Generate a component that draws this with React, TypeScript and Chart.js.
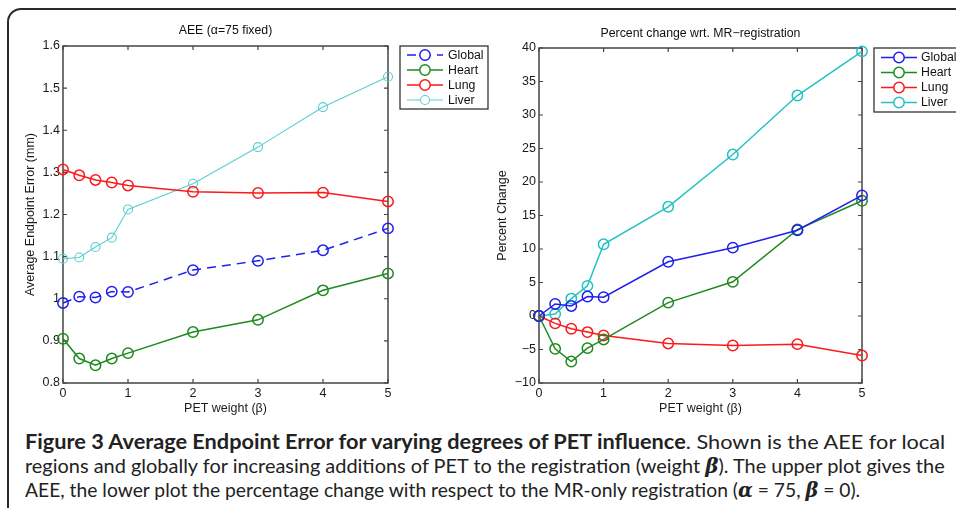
import React, { useEffect, useLayoutEffect, useRef } from "react";
import { Chart, registerables } from "chart.js";

Chart.register(...registerables);

// ---------- data ----------
const betaValues = [0, 0.25, 0.5, 0.75, 1, 2, 3, 4, 5];
const seriesNames = ["Global", "Heart", "Lung", "Liver"];

const aeeGlobal = [0.99, 1.005, 1.003, 1.017, 1.016, 1.068, 1.09, 1.115, 1.167];
const aeeHeart = [0.905, 0.858, 0.842, 0.858, 0.871, 0.921, 0.95, 1.02, 1.06];
const aeeLung = [1.307, 1.293, 1.282, 1.276, 1.269, 1.254, 1.251, 1.252, 1.231];
const aeeLiver = [1.095, 1.098, 1.123, 1.145, 1.212, 1.273, 1.36, 1.455, 1.527];

const pctGlobal = [0, 1.8, 1.5, 2.9, 2.8, 8.1, 10.2, 12.8, 18.0];
const pctHeart = [0, -4.9, -6.8, -4.8, -3.5, 2.0, 5.1, 12.9, 17.2];
const pctLung = [0, -1.1, -1.9, -2.4, -2.9, -4.1, -4.4, -4.2, -5.9];
const pctLiver = [0, 0.3, 2.6, 4.5, 10.7, 16.3, 24.1, 32.9, 39.5];

const xTicks = [0, 1, 2, 3, 4, 5];
const aeeTicks = [0.8, 0.9, 1.0, 1.1, 1.2, 1.3, 1.4, 1.5, 1.6];
const pctTicks = [-10, -5, 0, 5, 10, 15, 20, 25, 30, 35, 40];

const leftTitle = "AEE (\u03b1=75 fixed)";
const rightTitle = "Percent change wrt. MR\u2212registration";
const xTitle = "PET weight (\u03b2)";
const leftYTitle = "Average Endpoint Error (mm)";
const rightYTitle = "Percent Change";

const colBlue = "#1f1ff0";
const colGreen = "#1f8a1f";
const colRed = "#fa1a1a";
const colCyanLight = "#58cfcf";
const colCyan = "#22c2c2";

const FONT = "'Liberation Sans', Arial, Helvetica, sans-serif";
const AXIS_COLOR = "#444";

// ---------- plugins ----------
const matlabPlugin = {
  id: "matlabFrame",
  beforeDatasetsDraw(chart: any) {
    const { ctx, chartArea } = chart;
    const { left, right, top, bottom } = chartArea;
    ctx.save();
    ctx.strokeStyle = AXIS_COLOR;
    ctx.lineWidth = 1.5;
    ctx.strokeRect(left, top, right - left, bottom - top);
    const xs = chart.scales.x;
    const ys = chart.scales.y;
    const tl = 4;
    ctx.lineWidth = 1.2;
    ctx.beginPath();
    xs.ticks.forEach((t: any) => {
      const px = xs.getPixelForValue(t.value);
      ctx.moveTo(px, bottom);
      ctx.lineTo(px, bottom - tl);
      ctx.moveTo(px, top);
      ctx.lineTo(px, top + tl);
    });
    ys.ticks.forEach((t: any) => {
      const py = ys.getPixelForValue(t.value);
      ctx.moveTo(left, py);
      ctx.lineTo(left + tl, py);
      ctx.moveTo(right, py);
      ctx.lineTo(right - tl, py);
    });
    ctx.stroke();
    ctx.restore();
  },
  afterDraw(chart: any) {
    const opts = chart.options.plugins.matlabFrame || {};
    const { ctx, chartArea } = chart;
    ctx.save();
    if (opts.title) {
      ctx.fillStyle = "#111";
      ctx.font = `12.3px ${FONT}`;
      ctx.textAlign = "center";
      ctx.textBaseline = "middle";
      ctx.fillText(opts.title, (chartArea.left + chartArea.right) / 2, opts.titleY);
    }
    const lg = opts.legend;
    if (lg) {
      ctx.fillStyle = "#ffffff";
      ctx.fillRect(lg.x, lg.y, lg.w, lg.h);
      ctx.strokeStyle = "#333";
      ctx.lineWidth = 1.3;
      ctx.strokeRect(lg.x, lg.y, lg.w, lg.h);
      chart.data.datasets.forEach((ds: any, i: number) => {
        const cy = lg.y + lg.firstRow + i * lg.rowH;
        ctx.strokeStyle = ds.borderColor;
        ctx.lineWidth = ds.borderWidth;
        ctx.setLineDash(ds.borderDash || []);
        ctx.beginPath();
        ctx.moveTo(lg.x + lg.lineX0, cy);
        ctx.lineTo(lg.x + lg.lineX1, cy);
        ctx.stroke();
        ctx.setLineDash([]);
        ctx.lineWidth = ds.pointBorderWidth;
        ctx.beginPath();
        ctx.arc(lg.x + (lg.lineX0 + lg.lineX1) / 2, cy, ds.pointRadius, 0, Math.PI * 2);
        ctx.fillStyle = "#fff";
        ctx.fill();
        ctx.stroke();
        ctx.fillStyle = "#111";
        ctx.font = `12.3px ${FONT}`;
        ctx.textAlign = "left";
        ctx.textBaseline = "middle";
        ctx.fillText(ds.label, lg.x + lg.textX, cy + 0.5);
      });
    }
    ctx.restore();
  },
};

function fmtTick(v: number) {
  const r = Math.round(v * 100) / 100;
  return r < 0 ? "\u2212" + String(Math.abs(r)) : String(r);
}

function makeDataset(label: string, values: number[], color: string, opts: any = {}) {
  return {
    label,
    data: betaValues.map((b, i) => ({ x: b, y: values[i] })),
    borderColor: color,
    backgroundColor: "rgba(0,0,0,0)",
    borderWidth: 1.5,
    pointRadius: 5.2,
    pointBorderWidth: 1.5,
    pointBackgroundColor: "rgba(0,0,0,0)",
    pointBorderColor: color,
    tension: 0,
    clip: false,
    ...opts,
  };
}

function makeConfig(p: {
  datasets: any[];
  yTicks: number[];
  yWidth: number;
  xHeight: number;
  padding: any;
  yTitle: string;
  yTitlePad: number;
  title: string;
  titleY: number;
  legend: any;
}) {
  return {
    type: "line",
    data: { datasets: p.datasets },
    options: {
      animation: false,
      responsive: false,
      devicePixelRatio: 1,
      layout: { padding: p.padding },
      plugins: {
        legend: { display: false },
        tooltip: { enabled: false },
        title: { display: false },
        matlabFrame: { title: p.title, titleY: p.titleY, legend: p.legend },
      },
      scales: {
        x: {
          type: "linear",
          min: xTicks[0],
          max: xTicks[xTicks.length - 1],
          grid: { display: false, drawTicks: false },
          border: { display: false },
          afterBuildTicks: (axis: any) => {
            axis.ticks = xTicks.map((v) => ({ value: v }));
          },
          afterFit: (axis: any) => {
            axis.height = p.xHeight;
          },
          ticks: {
            padding: 3,
            color: "#1a1a1a",
            font: { family: FONT, size: 12.5 },
            callback: (v: any) => fmtTick(Number(v)),
            maxRotation: 0,
          },
          title: {
            display: true,
            text: xTitle,
            color: "#1a1a1a",
            font: { family: FONT, size: 12.5 },
            padding: { top: 0, bottom: 4 },
          },
        },
        y: {
          type: "linear",
          min: p.yTicks[0],
          max: p.yTicks[p.yTicks.length - 1],
          grid: { display: false, drawTicks: false },
          border: { display: false },
          afterBuildTicks: (axis: any) => {
            axis.ticks = p.yTicks.map((v) => ({ value: v }));
          },
          afterFit: (axis: any) => {
            axis.width = p.yWidth;
          },
          ticks: {
            padding: 3,
            color: "#1a1a1a",
            font: { family: FONT, size: 12.5 },
            callback: (v: any) => fmtTick(Number(v)),
          },
          title: {
            display: true,
            text: p.yTitle,
            color: "#1a1a1a",
            font: { family: FONT, size: 12.5 },
            padding: { top: p.yTitlePad, bottom: 0 },
          },
        },
      },
    },
    plugins: [matlabPlugin],
  } as any;
}

function ChartCanvas({ config, style, width, height }: any) {
  const ref = useRef<HTMLCanvasElement>(null);
  useEffect(() => {
    if (!ref.current) return;
    const chart = new Chart(ref.current, config);
    return () => chart.destroy();
  }, []);
  return <canvas ref={ref} width={width} height={height} style={{ position: "absolute", ...style, width, height }} />;
}

function ScaledLine({ children, target, top }: any) {
  const ref = useRef<HTMLDivElement>(null);
  useLayoutEffect(() => {
    const el = ref.current;
    if (!el) return;
    el.style.transform = "none";
    const w = el.scrollWidth;
    if (w > 0) el.style.transform = `scaleX(${target / w})`;
  }, []);
  return (
    <div
      ref={ref}
      style={{
        position: "absolute",
        left: 25,
        top,
        whiteSpace: "nowrap",
        transformOrigin: "0 0",
        display: "inline-block",
        fontFamily: "Lato, 'Open Sans', sans-serif",
        fontSize: 20,
        lineHeight: "24px",
        color: "#222",
      }}
    >
      {children}
    </div>
  );
}

const gk: any = { fontFamily: "'DejaVu Serif', 'Liberation Serif', serif", fontStyle: "italic", fontWeight: "bold" };

export default function App() {
  const leftConfig = makeConfig({
    datasets: [
      makeDataset(seriesNames[0], aeeGlobal, colBlue, { borderDash: [9, 6] }),
      makeDataset(seriesNames[1], aeeHeart, colGreen),
      makeDataset(seriesNames[2], aeeLung, colRed),
      makeDataset(seriesNames[3], aeeLiver, colCyanLight, { borderWidth: 1.1, pointRadius: 4.5, pointBorderWidth: 1.1 }),
    ],
    yTicks: aeeTicks,
    yWidth: 63,
    xHeight: 37,
    padding: { left: 0, top: 46, right: 102, bottom: 0 },
    yTitle: leftYTitle,
    yTitlePad: 23,
    title: leftTitle,
    titleY: 31,
    legend: { x: 400, y: 46, w: 88, h: 63, firstRow: 9, rowH: 15, lineX0: 7, lineX1: 43, textX: 48 },
  });
  const rightConfig = makeConfig({
    datasets: [
      makeDataset(seriesNames[0], pctGlobal, colBlue),
      makeDataset(seriesNames[1], pctHeart, colGreen),
      makeDataset(seriesNames[2], pctLung, colRed),
      makeDataset(seriesNames[3], pctLiver, colCyan),
    ],
    yTicks: pctTicks,
    yWidth: 59,
    xHeight: 37,
    padding: { left: 0, top: 48, right: 94, bottom: 0 },
    yTitle: rightYTitle,
    yTitlePad: 15,
    title: rightTitle,
    titleY: 34,
    legend: { x: 394, y: 48, w: 100, h: 64, firstRow: 9.5, rowH: 15, lineX0: 7, lineX1: 43, textX: 47 },
  });

  return (
    <div style={{ position: "absolute", left: 0, top: 0, width: 956, height: 508, overflow: "hidden", background: "#fff" }}>
      <div
        style={{
          position: "absolute",
          left: 7,
          top: 8,
          width: 1000,
          height: 560,
          border: "2px solid #2a2a2a",
          borderRadius: 14,
          boxSizing: "border-box",
        }}
      />
      <ChartCanvas config={leftConfig} width={490} height={420} style={{ left: 0, top: 0 }} />
      <ChartCanvas config={rightConfig} width={476} height={420} style={{ left: 480, top: 0 }} />
      <ScaledLine target={920} top={429}>
        <b>Figure 3 Average Endpoint Error for varying degrees of PET influence</b>. Shown is the AEE for local
      </ScaledLine>
      <ScaledLine target={920} top={453}>
        regions and globally for increasing additions of PET to the registration (weight <span style={gk}>β</span>). The upper plot gives the
      </ScaledLine>
      <ScaledLine target={835} top={477}>
        AEE, the lower plot the percentage change with respect to the MR-only registration (<span style={gk}>α</span> = 75, <span style={gk}>β</span> = 0).
      </ScaledLine>
    </div>
  );
}
